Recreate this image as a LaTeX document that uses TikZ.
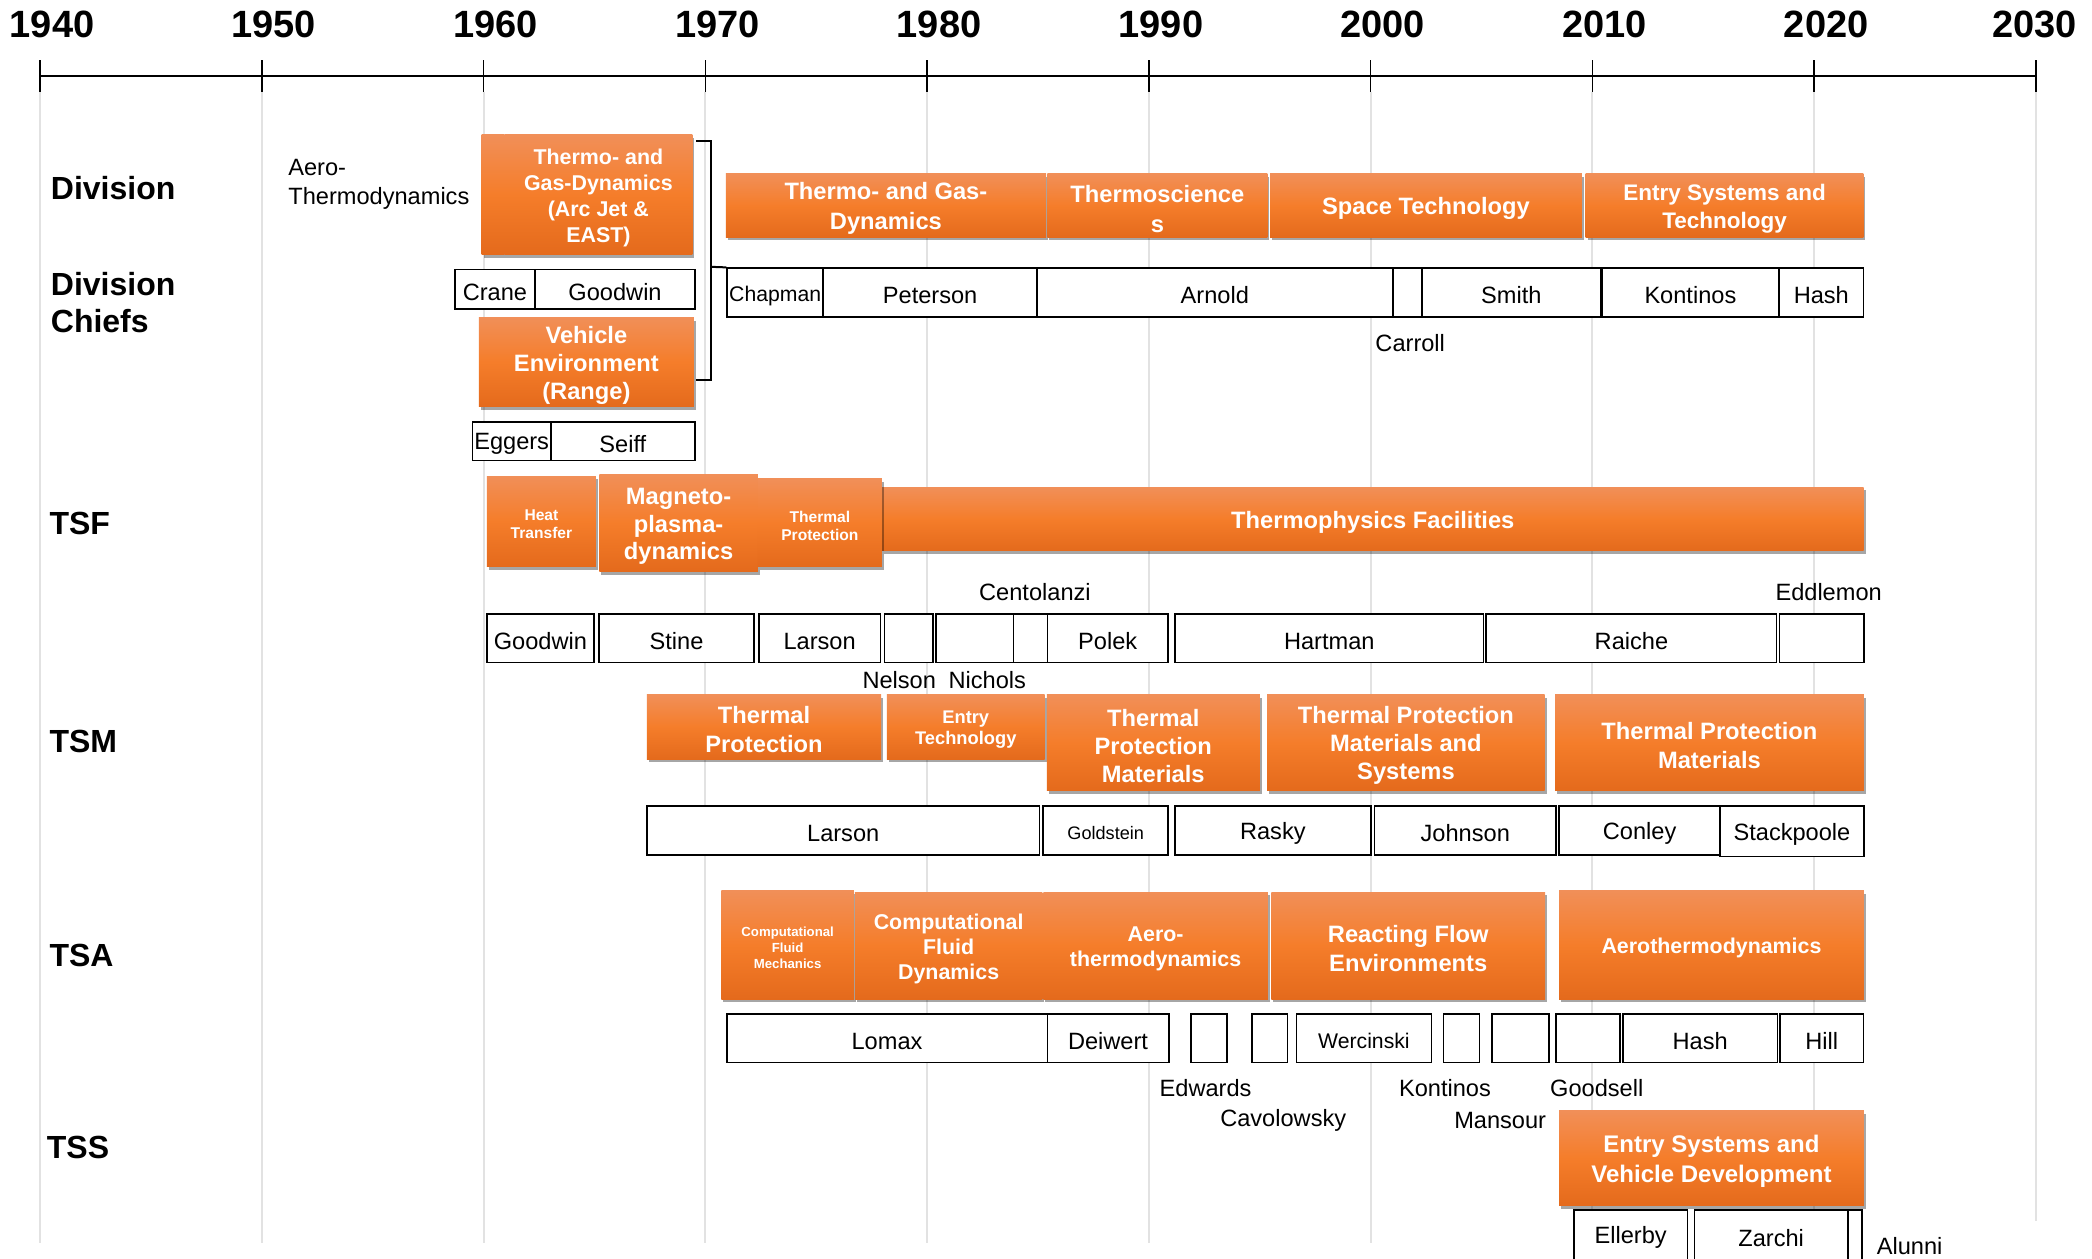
\documentclass[tikz,border=0pt]{standalone}
\usepackage{fontspec}
\setmainfont{Liberation Sans}
\usetikzlibrary{fit,shadows}

\definecolor{otop}{RGB}{241,143,88}
\definecolor{omid}{RGB}{245,125,42}
\definecolor{obot}{RGB}{228,106,28}
\definecolor{gridgray}{RGB}{226,226,226}

\tikzset{
  obox/.style={inner sep=0pt, top color=otop, bottom color=obot, middle color=omid,
    drop shadow={shadow xshift=2pt, shadow yshift=-3pt, opacity=.35, fill=black}},
  otext/.style={inner sep=0pt, yshift=-3pt, text=white, align=center,
    font=\bfseries\fontsize{23.7}{28}\selectfont},
  namebox/.style={draw, line width=1.6pt, fill=white, inner sep=0pt},
  who/.style={inner sep=0pt, font=\fontsize{23.6}{28}\selectfont},
  inbox/.style={who, yshift=-3pt},
  rowlab/.style={anchor=west, inner sep=0pt, align=left,
    font=\bfseries\fontsize{32}{37}\selectfont},
  year/.style={font=\bfseries\fontsize{38}{40}\selectfont},
  brace/.style={line width=2pt},
}

\begin{document}
\begin{tikzpicture}[x=1.3342pt, y=-1.3342pt]
  \useasboundingbox (0,0) rectangle (1568,943.6);
  \clip (0,0) rectangle (1568,943.6);

  % time axis and grid
  \foreach \yr [count=\i from 0] in {1940,1950,...,2030}{
    \pgfmathsetmacro\xx{30+166.22*\i}
    \pgfmathsetmacro\yend{\yr==2030 ? 915 : 932}
    \pgfmathsetmacro\xlab{\yr==2030 ? 1525 : \xx+9}
    \draw[gridgray, line width=2pt] (\xx,69) -- (\xx,\yend);
    \draw[line width=1.6pt] (\xx,45) -- (\xx,69);
    \node[year] (y\yr) at (\xlab,18) {\yr};
    \coordinate (t\yr) at (\xx,57);
  }
  \draw[line width=2.6pt] (t1940) -- (t2030);

  % row labels
  \node[rowlab] (lDiv) at (38,141) {Division};
  \node[rowlab] (lChiefs) at (38,227) {Division\\Chiefs};
  \node[rowlab] (lTSF) at (37,392) {TSF};
  \node[rowlab] (lTSM) at (37,556) {TSM};
  \node[rowlab] (lTSA) at (37,716) {TSA};
  \node[rowlab] (lTSS) at (35,860) {TSS};

  % division
  \node[who, anchor=west, align=left, font=\fontsize{23.6}{29.4}\selectfont] (dAero) at (216,138) {Aero-\\Thermodynamics};
  \node[obox, fit={(361,101) (378,191)}] (dStrip) {};
  \node[obox, fit={(378,101) (519,191)}] (dArcJet) {};
  \node[otext, font=\bfseries\fontsize{21.4}{26.1}\selectfont] (dArcJetT) at (dArcJet) {Thermo- and\\Gas-Dynamics\\(Arc Jet \&\\EAST)};
  \node[namebox, fit={(341,202) (401,231.6)}] (cCrane) {};
  \node[inbox] (cCraneT) at (cCrane) {Crane};
  \node[namebox, fit={(401,202) (521,231.6)}] (cGoodwin) {};
  \node[inbox] (cGoodwinT) at (cGoodwin) {Goodwin};
  \node[obox, fit={(359,238) (520,305)}] (dVehicle) {};
  \node[otext, font=\bfseries\fontsize{23.7}{28}\selectfont] (dVehicleT) at (dVehicle) {Vehicle\\Environment\\(Range)};
  \node[namebox, fit={(354,316.5) (413,345)}] (cEggers) {};
  \node[inbox] (cEggersT) at (cEggers) {Eggers};
  \node[namebox, fit={(413,316.5) (520.7,345)}] (cSeiff) {};
  \node[inbox] (cSeiffT) at (cSeiff) {Seiff};

  \node[obox, fit={(544,130.4) (784,178)}] (dTGD) {};
  \node[otext, font=\bfseries\fontsize{23.7}{30}\selectfont] (dTGDT) at (dTGD) {Thermo- and Gas-\\Dynamics};
  \node[obox, fit={(785,130.4) (950,178)}] (dTS) {};
  \node[otext, font=\bfseries\fontsize{23.7}{30}\selectfont] (dTST) at (dTS) {Thermoscience\\s};
  \node[obox, fit={(952,130.4) (1185.6,178)}] (dST) {};
  \node[otext] (dSTT) at (dST) {Space Technology};
  \node[obox, fit={(1188.5,130.4) (1396.7,178)}] (dEST) {};
  \node[otext, font=\bfseries\fontsize{22.5}{27.5}\selectfont] (dESTT) at (dEST) {Entry Systems and\\Technology};

  \node[namebox, fit={(545,201) (617,237.5)}] (cChapman) {};
  \node[inbox, font=\fontsize{21.2}{25}\selectfont] (cChapmanT) at (cChapman) {Chapman};
  \node[namebox, fit={(617,201) (777.3,237.5)}] (cPeterson) {};
  \node[inbox] (cPetersonT) at (cPeterson) {Peterson};
  \node[namebox, fit={(777.3,201) (1043.8,237.5)}] (cArnold) {};
  \node[inbox] (cArnoldT) at (cArnold) {Arnold};
  \node[namebox, fit={(1044.5,201) (1066,237.5)}] (cCarroll) {};
  \node[namebox, fit={(1066,201) (1199.5,237.5)}] (cSmith) {};
  \node[inbox] (cSmithT) at (cSmith) {Smith};
  \node[namebox, fit={(1200.5,201) (1333.5,237.5)}] (cKontinos) {};
  \node[inbox] (cKontinosT) at (cKontinos) {Kontinos};
  \node[namebox, fit={(1333.5,201) (1396.7,237.5)}] (cHash) {};
  \node[inbox] (cHashT) at (cHash) {Hash};
  \node[who] (nCarroll) at (1057,257) {Carroll};

  \coordinate (brTop) at (522,106);
  \coordinate (brBot) at (522,285);
  \coordinate (brMid) at (533,200);
  \draw[brace] (brTop) -- (brTop -| brMid) -- (brBot -| brMid) -- (brBot);
  \draw[brace] (brMid) -- (cChapman.north west);

  % TSF
  \node[obox, fit={(364.9,356.8) (446.7,424.7)}] (fHeat) {};
  \node[otext, font=\bfseries\fontsize{15.6}{18.4}\selectfont] (fHeatT) at (fHeat) {Heat\\Transfer};
  \node[obox, fit={(449.2,356) (568,428.5)}] (fMagneto) {};
  \node[otext, font=\bfseries\fontsize{23.7}{27.9}\selectfont] (fMagnetoT) at (fMagneto) {Magneto-\\plasma-\\dynamics};
  \node[obox, fit={(661,365.3) (1396.9,412.7)}] (fFacilities) {};
  \node[otext] (fFacilitiesT) at (fFacilities) {Thermophysics Facilities};
  \node[obox, fit={(568,359) (661,424.7)}] (fTP) {};
  \node[otext, font=\bfseries\fontsize{15.6}{18.4}\selectfont] (fTPT) at (fTP) {Thermal\\Protection};

  \node[who] (nCentolanzi) at (775.7,443.5) {Centolanzi};
  \node[who] (nEddlemon) at (1370.6,444) {Eddlemon};
  \node[namebox, fit={(364.9,460.2) (445.2,496.4)}] (fGoodwin) {};
  \node[inbox] (fGoodwinT) at (fGoodwin) {Goodwin};
  \node[namebox, fit={(448.8,460.2) (565.3,496.4)}] (fStine) {};
  \node[inbox] (fStineT) at (fStine) {Stine};
  \node[namebox, fit={(568.7,460.2) (660,496.4)}] (fLarson) {};
  \node[inbox] (fLarsonT) at (fLarson) {Larson};
  \node[namebox, fit={(663,460.2) (699.1,496.4)}] (fNelson) {};
  \node[namebox, fit={(701.5,460.2) (759.7,496.4)}] (fNichols) {};
  \node[namebox, fit={(759.7,460.2) (785.1,496.4)}] (fCentolanzi) {};
  \node[namebox, fit={(785.1,460.2) (875.4,496.4)}] (fPolek) {};
  \node[inbox] (fPolekT) at (fPolek) {Polek};
  \node[namebox, fit={(880.8,460.2) (1111.8,496.4)}] (fHartman) {};
  \node[inbox] (fHartmanT) at (fHartman) {Hartman};
  \node[namebox, fit={(1114,460.2) (1331.6,496.4)}] (fRaiche) {};
  \node[inbox] (fRaicheT) at (fRaiche) {Raiche};
  \node[namebox, fit={(1333.8,460.2) (1396.9,496.4)}] (fEddlemon) {};
  \node[who] (nNelson) at (674,509.7) {Nelson};
  \node[who] (nNichols) at (740,509.7) {Nichols};

  % TSM
  \node[obox, fit={(484.8,520.9) (660.5,568.9)}] (mTP) {};
  \node[otext, font=\bfseries\fontsize{23.7}{29}\selectfont] (mTPT) at (mTP) {Thermal\\Protection};
  \node[obox, fit={(664.8,520.9) (782.9,568.9)}] (mET) {};
  \node[otext, font=\bfseries\fontsize{18.3}{21}\selectfont] (mETT) at (mET) {Entry\\Technology};
  \node[obox, fit={(784.6,520.9) (944.2,592.6)}] (mTPM) {};
  \node[otext] (mTPMT) at (mTPM) {Thermal\\Protection\\Materials};
  \node[obox, fit={(949.8,520.9) (1157.8,592.6)}] (mTPMS) {};
  \node[otext] (mTPMST) at (mTPMS) {Thermal Protection\\Materials and\\Systems};
  \node[obox, fit={(1165.5,520.9) (1397,592.6)}] (mTPM2) {};
  \node[otext, font=\bfseries\fontsize{23.7}{29.4}\selectfont] (mTPM2T) at (mTPM2) {Thermal Protection\\Materials};

  \node[namebox, fit={(484.8,604.1) (779.2,640.8)}] (mLarson) {};
  \node[inbox] (mLarsonT) at (mLarson) {Larson};
  \node[namebox, fit={(781.9,604.1) (875.6,640.8)}] (mGoldstein) {};
  \node[inbox, font=\fontsize{18.1}{22}\selectfont] (mGoldsteinT) at (mGoldstein) {Goldstein};
  \node[namebox, fit={(880.6,604.1) (1027.4,640.8)}] (mRasky) {};
  \node[inbox] (mRaskyT) at (mRasky) {Rasky};
  \node[namebox, fit={(1030.3,604.1) (1166.2,640.8)}] (mJohnson) {};
  \node[inbox] (mJohnsonT) at (mJohnson) {Johnson};
  \node[namebox, fit={(1168.7,604.1) (1289.2,640.8)}] (mConley) {};
  \node[inbox] (mConleyT) at (mConley) {Conley};
  \node[namebox, fit={(1289.2,604) (1397,642)}] (mStackpoole) {};
  \node[inbox] (mStackpooleT) at (mStackpoole) {Stackpoole};

  % TSA
  \node[obox, fit={(540.7,667.8) (640,748.8)}] (aCFM) {};
  \node[otext, font=\bfseries\fontsize{13.2}{15.9}\selectfont] (aCFMT) at (aCFM) {Computational\\Fluid\\Mechanics};
  \node[obox, fit={(640.8,668.6) (781.3,748.8)}] (aCFD) {};
  \node[otext, font=\bfseries\fontsize{21.4}{25}\selectfont] (aCFDT) at (aCFD) {Computational\\Fluid\\Dynamics};
  \node[obox, fit={(782,668.6) (950.3,748.8)}] (aAeroT) {};
  \node[otext, font=\bfseries\fontsize{21.4}{25}\selectfont] (aAeroTT) at (aAeroT) {Aero-\\thermodynamics};
  \node[obox, fit={(953,668.6) (1158,748.8)}] (aRFE) {};
  \node[otext, font=\bfseries\fontsize{23.7}{29}\selectfont] (aRFET) at (aRFE) {Reacting Flow\\Environments};
  \node[obox, fit={(1168.6,667.8) (1397,748.8)}] (aAerothermo) {};
  \node[otext, font=\bfseries\fontsize{21.4}{25}\selectfont] (aAerothermoT) at (aAerothermo) {Aerothermodynamics};

  \node[namebox, fit={(544.7,760) (785,796.3)}] (aLomax) {};
  \node[inbox] (aLomaxT) at (aLomax) {Lomax};
  \node[namebox, fit={(785,760) (876,796.3)}] (aDeiwert) {};
  \node[inbox] (aDeiwertT) at (aDeiwert) {Deiwert};
  \node[namebox, fit={(892.7,760) (919.5,796.3)}] (aEdwards) {};
  \node[namebox, fit={(938.2,760) (965,796.3)}] (aCavolowsky) {};
  \node[namebox, fit={(971.7,760) (1072.9,796.3)}] (aWercinski) {};
  \node[inbox, font=\fontsize{21.2}{25}\selectfont] (aWercinskiT) at (aWercinski) {Wercinski};
  \node[namebox, fit={(1082,760) (1109,796.3)}] (aKontinos) {};
  \node[namebox, fit={(1118.3,760) (1160.8,796.3)}] (aMansour) {};
  \node[namebox, fit={(1166.2,760) (1214.1,796.3)}] (aGoodsell) {};
  \node[namebox, fit={(1216.5,760) (1332.2,796.3)}] (aHash) {};
  \node[inbox] (aHashT) at (aHash) {Hash};
  \node[namebox, fit={(1334,760) (1396.7,796.3)}] (aHill) {};
  \node[inbox] (aHillT) at (aHill) {Hill};
  \node[who] (nEdwards) at (903.6,815.7) {Edwards};
  \node[who] (nCavolowsky) at (961.8,840) {Cavolowsky};
  \node[who] (nKontinos) at (1083,815.7) {Kontinos};
  \node[who] (nGoodsell) at (1196.8,815.7) {Goodsell};
  \node[who] (nMansour) at (1124.4,839.5) {Mansour};

  % TSS
  \node[obox, fit={(1168.6,832.7) (1397,903.7)}] (sESVD) {};
  \node[otext, font=\bfseries\fontsize{24}{30}\selectfont] (sESVDT) at (sESVD) {Entry Systems and\\Vehicle Development};
  \node[namebox, fit={(1179.7,906.9) (1264.7,947)}] (sEllerby) {};
  \node[inbox] (sEllerbyT) at (1222.2,925.5) {Ellerby};
  \node[namebox, fit={(1270,906.9) (1385,947)}] (sZarchi) {};
  \node[inbox] (sZarchiT) at (1327.5,925.5) {Zarchi};
  \node[namebox, fit={(1385,906.9) (1395.6,947)}] (sAlunni) {};
  \node[who, anchor=west] (nAlunni) at (1406.6,934) {Alunni};
\end{tikzpicture}
\end{document}
